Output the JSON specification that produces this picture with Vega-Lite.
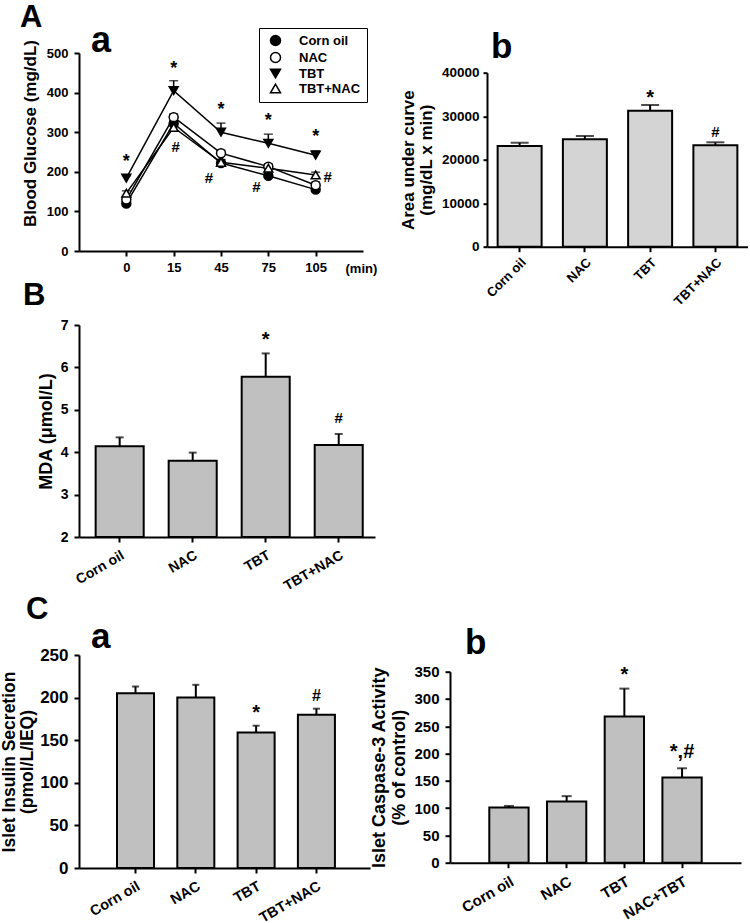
{
  "$schema": "https://vega.github.io/schema/vega-lite/v6.json",
  "background": "white",
  "padding": {"left": 0, "top": 2, "right": 0, "bottom": 0},
  "config": {
    "font": "Liberation Sans",
    "view": {"stroke": null},
    "axis": {
      "domainColor": "black", "domainWidth": 2, "tickColor": "black", "tickWidth": 2, "tickSize": 5,
      "labelColor": "black", "labelFont": "Liberation Sans", "labelFontWeight": "bold", "labelOverlap": false,
      "titleColor": "black", "titleFont": "Liberation Sans", "titleFontWeight": "bold", "grid": false,
      "labelPadding": 5, "titlePadding": 6
    },
    "title": {"font": "Liberation Sans", "fontWeight": "bold", "color": "black", "anchor": "start", "frame": "group"},
    "text": {"font": "Liberation Sans", "fontWeight": "bold", "color": "black"}
  },
  "datasets": {
    "glucose": [
      {"series": "Corn oil", "time": "0", "value": 120, "upper": 126},
      {"series": "Corn oil", "time": "15", "value": 322, "upper": 330},
      {"series": "Corn oil", "time": "45", "value": 222, "upper": 230},
      {"series": "Corn oil", "time": "75", "value": 190, "upper": 197},
      {"series": "Corn oil", "time": "105", "value": 155, "upper": 162},
      {"series": "NAC", "time": "0", "value": 130, "upper": 137},
      {"series": "NAC", "time": "15", "value": 338, "upper": 346},
      {"series": "NAC", "time": "45", "value": 247, "upper": 254},
      {"series": "NAC", "time": "75", "value": 213, "upper": 220},
      {"series": "NAC", "time": "105", "value": 166, "upper": 174},
      {"series": "TBT", "time": "0", "value": 184, "upper": 190},
      {"series": "TBT", "time": "15", "value": 405, "upper": 430},
      {"series": "TBT", "time": "45", "value": 300, "upper": 323},
      {"series": "TBT", "time": "75", "value": 272, "upper": 295},
      {"series": "TBT", "time": "105", "value": 242, "upper": 253},
      {"series": "TBT+NAC", "time": "0", "value": 146, "upper": 152},
      {"series": "TBT+NAC", "time": "15", "value": 312, "upper": 320},
      {"series": "TBT+NAC", "time": "45", "value": 224, "upper": 231},
      {"series": "TBT+NAC", "time": "75", "value": 209, "upper": 216},
      {"series": "TBT+NAC", "time": "105", "value": 192, "upper": 199}
    ],
    "glucose_notes": [
      {"time": "0", "y": 235, "note": "*"},
      {"time": "15", "y": 470, "note": "*"},
      {"time": "45", "y": 366, "note": "*"},
      {"time": "75", "y": 338, "note": "*"},
      {"time": "105", "y": 298, "note": "*"},
      {"time": "15", "y": 263, "note": "#"},
      {"time": "45", "y": 184, "note": "#"},
      {"time": "75", "y": 162, "note": "#"},
      {"time": "105", "y": 187, "note": "#"}
    ],
    "auc": [
      {"group": "Corn oil", "value": 23150, "upper": 23900},
      {"group": "NAC", "value": 24690, "upper": 25450},
      {"group": "TBT", "value": 31260, "upper": 32570},
      {"group": "TBT+NAC", "value": 23300, "upper": 24000}
    ],
    "auc_notes": [
      {"group": "TBT", "y": 35300, "note": "*"},
      {"group": "TBT+NAC", "y": 26440, "note": "#"}
    ],
    "mda": [
      {"group": "Corn oil", "value": 4.14, "upper": 4.35},
      {"group": "NAC", "value": 3.80, "upper": 3.99},
      {"group": "TBT", "value": 5.78, "upper": 6.33},
      {"group": "TBT+NAC", "value": 4.17, "upper": 4.43}
    ],
    "mda_notes": [
      {"group": "TBT", "y": 6.77, "note": "*"},
      {"group": "TBT+NAC", "y": 4.80, "note": "#"}
    ],
    "insulin": [
      {"group": "Corn oil", "value": 205, "upper": 213},
      {"group": "NAC", "value": 200, "upper": 215},
      {"group": "TBT", "value": 159, "upper": 167},
      {"group": "TBT+NAC", "value": 180, "upper": 187}
    ],
    "insulin_notes": [
      {"group": "TBT", "y": 188, "note": "*"},
      {"group": "TBT+NAC", "y": 202, "note": "#"}
    ],
    "caspase": [
      {"group": "Corn oil", "value": 101, "upper": 104},
      {"group": "NAC", "value": 112, "upper": 122},
      {"group": "TBT", "value": 268, "upper": 319},
      {"group": "NAC+TBT", "value": 156, "upper": 173}
    ],
    "caspase_notes": [
      {"group": "TBT", "y": 352, "note": "*"},
      {"group": "NAC+TBT", "y": 211, "note": "*,#"}
    ]
  },
  "spacing": 0,
  "bounds": "flush",
  "vconcat": [
    {
      "title": {"text": "A", "fontSize": 31, "dx": -59, "dy": 11, "offset": 0},
      "spacing": 124,
      "bounds": "flush",
      "hconcat": [
        {
          "title": {"text": "a", "fontSize": 36, "dx": 12, "dy": 20.6, "offset": 0},
          "width": 284,
          "height": 198,
          "data": {"name": "glucose"},
          "encoding": {
            "x": {
              "field": "time", "type": "ordinal", "sort": ["0", "15", "45", "75", "105"],
              "scale": {"type": "point", "padding": 1},
              "axis": {"labelAngle": 0, "labelFontSize": 13, "labelPadding": 5, "title": "(min)", "titleAngle": 0, "titleFontSize": 13, "titleAlign": "left", "titleBaseline": "middle", "titleX": 266, "titleY": 17}
            }
          },
          "layer": [
            {
              "mark": {"type": "line", "color": "black", "strokeWidth": 1.5},
              "encoding": {
                "y": {
                  "field": "value", "type": "quantitative", "scale": {"domain": [0, 500], "nice": false},
                  "axis": {"values": [0, 100, 200, 300, 400, 500], "labelFontSize": 13, "labelPadding": 6, "title": "Blood Glucose (mg/dL)", "titleFontSize": 17, "titlePadding": 7, "titleY": 80}
                },
                "detail": {"field": "series"}
              }
            },
            {
              "mark": {"type": "rule", "color": "black", "strokeWidth": 1.5},
              "encoding": {
                "y": {"field": "value", "type": "quantitative", "axis": {"values": [0, 100, 200, 300, 400, 500], "labelFontSize": 13, "labelPadding": 6, "title": "Blood Glucose (mg/dL)", "titleFontSize": 17, "titlePadding": 7, "titleY": 80}},
                "y2": {"field": "upper"}
              }
            },
            {
              "mark": {"type": "tick", "color": "black", "thickness": 1.5, "size": 9},
              "encoding": {"y": {"field": "upper", "type": "quantitative", "axis": {"values": [0, 100, 200, 300, 400, 500], "labelFontSize": 13, "labelPadding": 6, "title": "Blood Glucose (mg/dL)", "titleFontSize": 17, "titlePadding": 7, "titleY": 80}}}
            },
            {
              "mark": {"type": "point", "filled": true, "stroke": "black", "strokeWidth": 1.5, "size": 80, "opacity": 1},
              "encoding": {
                "y": {"field": "value", "type": "quantitative", "axis": {"values": [0, 100, 200, 300, 400, 500], "labelFontSize": 13, "labelPadding": 6, "title": "Blood Glucose (mg/dL)", "titleFontSize": 17, "titlePadding": 7, "titleY": 80}},
                "shape": {
                  "field": "series", "type": "nominal",
                  "scale": {"domain": ["Corn oil", "NAC", "TBT", "TBT+NAC"], "range": ["circle", "circle", "triangle-down", "triangle-up"]},
                  "legend": {
                    "orient": "none", "legendX": 180, "legendY": -25, "title": null,
                    "symbolSize": 100, "symbolStrokeWidth": 1.5, "symbolStrokeColor": "black", "symbolOpacity": 1, "symbolOffset": 4,
                    "labelFontSize": 13, "labelFontWeight": "bold", "labelColor": "black", "labelFont": "Liberation Sans", "labelOffset": 17,
                    "strokeColor": "black", "fillColor": "white", "padding": 6, "rowPadding": 0,
                    "encoding": {
                      "symbols": {
                        "shape": {"value": {"expr": "datum.value === 'TBT' ? 'M-3.2,0H3.2M-1.1,-0.9L1.1,-0.9L0,1Z' : datum.value === 'TBT+NAC' ? 'M-3.2,0H-0.58M0.58,0H3.2M-1.1,0.9L1.1,0.9L0,-1Z' : 'M-3.2,0H-1M1,0H3.2M-1,0A1,1,0,1,1,1,0A1,1,0,1,1,-1,0Z'"}},
                        "size": {"value": 100},
                        "stroke": {"value": "black"},
                        "strokeWidth": {"value": 1.5},
                        "opacity": {"value": 1}
                      }
                    }
                  }
                },
                "fill": {
                  "field": "series", "type": "nominal",
                  "scale": {"domain": ["Corn oil", "NAC", "TBT", "TBT+NAC"], "range": ["black", "white", "black", "white"]},
                  "legend": {
                    "orient": "none", "legendX": 180, "legendY": -25, "title": null,
                    "symbolSize": 100, "symbolStrokeWidth": 1.5, "symbolStrokeColor": "black", "symbolOpacity": 1, "symbolOffset": 4,
                    "labelFontSize": 13, "labelFontWeight": "bold", "labelColor": "black", "labelFont": "Liberation Sans", "labelOffset": 17,
                    "strokeColor": "black", "fillColor": "white", "padding": 6, "rowPadding": 0,
                    "encoding": {
                      "symbols": {
                        "shape": {"value": {"expr": "datum.value === 'TBT' ? 'M-3.2,0H3.2M-1.1,-0.9L1.1,-0.9L0,1Z' : datum.value === 'TBT+NAC' ? 'M-3.2,0H-0.58M0.58,0H3.2M-1.1,0.9L1.1,0.9L0,-1Z' : 'M-3.2,0H-1M1,0H3.2M-1,0A1,1,0,1,1,1,0A1,1,0,1,1,-1,0Z'"}},
                        "size": {"value": 100},
                        "stroke": {"value": "black"},
                        "strokeWidth": {"value": 1.5},
                        "opacity": {"value": 1}
                      }
                    }
                  }
                }
              }
            },
            {
              "data": {"name": "glucose_notes"},
              "transform": [{"filter": "datum.note == '*'"}],
              "mark": {"type": "text", "fontSize": 18, "dy": 4},
              "encoding": {"y": {"field": "y", "type": "quantitative", "axis": {"values": [0, 100, 200, 300, 400, 500], "labelFontSize": 13, "labelPadding": 6, "title": "Blood Glucose (mg/dL)", "titleFontSize": 17, "titlePadding": 7, "titleY": 80}}, "text": {"field": "note"}}
            },
            {
              "data": {"name": "glucose_notes"},
              "transform": [{"filter": "datum.note == '#' && (datum.time == '45' || datum.time == '75')"}],
              "mark": {"type": "text", "fontSize": 15, "dx": -12},
              "encoding": {"y": {"field": "y", "type": "quantitative", "axis": {"values": [0, 100, 200, 300, 400, 500], "labelFontSize": 13, "labelPadding": 6, "title": "Blood Glucose (mg/dL)", "titleFontSize": 17, "titlePadding": 7, "titleY": 80}}, "text": {"field": "note"}}
            },
            {
              "data": {"name": "glucose_notes"},
              "transform": [{"filter": "datum.note == '#' && datum.time == '105'"}],
              "mark": {"type": "text", "fontSize": 15, "dx": 12},
              "encoding": {"y": {"field": "y", "type": "quantitative", "axis": {"values": [0, 100, 200, 300, 400, 500], "labelFontSize": 13, "labelPadding": 6, "title": "Blood Glucose (mg/dL)", "titleFontSize": 17, "titlePadding": 7, "titleY": 80}}, "text": {"field": "note"}}
            },
            {
              "data": {"name": "glucose_notes"},
              "transform": [{"filter": "datum.note == '#' && datum.time == '15'"}],
              "mark": {"type": "text", "fontSize": 15, "dx": 2},
              "encoding": {"y": {"field": "y", "type": "quantitative", "axis": {"values": [0, 100, 200, 300, 400, 500], "labelFontSize": 13, "labelPadding": 6, "title": "Blood Glucose (mg/dL)", "titleFontSize": 17, "titlePadding": 7, "titleY": 80}}, "text": {"field": "note"}}
            }
          ]
        },
        {
          "spacing": 18.7,
          "bounds": "flush",
          "vconcat": [
            {"width": 1, "height": 1, "data": {"values": []}, "mark": "point"},
            {
              "title": {"text": "b", "fontSize": 35, "dx": 4, "offset": 0.8},
              "width": 261,
              "height": 174,
              "encoding": {
                "x": {
                  "field": "group", "type": "nominal", "sort": null,
                  "scale": {"domain": ["Corn oil", "NAC", "TBT", "TBT+NAC"], "paddingInner": 0.326, "paddingOuter": 0.163},
                  "axis": {"title": null, "labelAngle": -45, "labelFontSize": 13, "labelPadding": 4}
                }
              },
              "layer": [
                {
                  "data": {"name": "auc"},
                  "mark": {"type": "bar", "fill": "#d4d4d4", "stroke": "black", "strokeWidth": 2},
                  "encoding": {
                    "y": {
                      "field": "value", "type": "quantitative", "scale": {"domain": [0, 40000], "nice": false},
                      "axis": {"values": [0, 10000, 20000, 30000, 40000], "format": "d", "labelFontSize": 13.5, "labelPadding": 4, "tickSize": 4, "title": ["Area under curve", "(mg/dL x min)"], "titleFontSize": 17, "titleLineHeight": 18, "titlePadding": 6}
                    }
                  }
                },
                {
                  "data": {"name": "auc"},
                  "mark": {"type": "rule", "color": "black", "strokeWidth": 2},
                  "encoding": {"y": {"field": "value", "type": "quantitative", "axis": {"values": [0, 10000, 20000, 30000, 40000], "format": "d", "labelFontSize": 13.5, "labelPadding": 4, "tickSize": 4, "title": ["Area under curve", "(mg/dL x min)"], "titleFontSize": 17, "titleLineHeight": 18, "titlePadding": 6}}, "y2": {"field": "upper"}}
                },
                {
                  "data": {"name": "auc"},
                  "mark": {"type": "tick", "color": "black", "thickness": 2, "size": 18},
                  "encoding": {"y": {"field": "upper", "type": "quantitative", "axis": {"values": [0, 10000, 20000, 30000, 40000], "format": "d", "labelFontSize": 13.5, "labelPadding": 4, "tickSize": 4, "title": ["Area under curve", "(mg/dL x min)"], "titleFontSize": 17, "titleLineHeight": 18, "titlePadding": 6}}}
                },
                {
                  "data": {"name": "auc_notes"},
                  "transform": [{"filter": "datum.note == '*'"}],
                  "mark": {"type": "text", "fontSize": 20, "dy": 5},
                  "encoding": {"y": {"field": "y", "type": "quantitative", "axis": {"values": [0, 10000, 20000, 30000, 40000], "format": "d", "labelFontSize": 13.5, "labelPadding": 4, "tickSize": 4, "title": ["Area under curve", "(mg/dL x min)"], "titleFontSize": 17, "titleLineHeight": 18, "titlePadding": 6}}, "text": {"field": "note"}}
                },
                {
                  "data": {"name": "auc_notes"},
                  "transform": [{"filter": "datum.note == '#'"}],
                  "mark": {"type": "text", "fontSize": 15},
                  "encoding": {"y": {"field": "y", "type": "quantitative", "axis": {"values": [0, 10000, 20000, 30000, 40000], "format": "d", "labelFontSize": 13.5, "labelPadding": 4, "tickSize": 4, "title": ["Area under curve", "(mg/dL x min)"], "titleFontSize": 17, "titleLineHeight": 18, "titlePadding": 6}}, "text": {"field": "note"}}
                }
              ]
            }
          ]
        }
      ]
    },
    {"width": 1, "height": 272, "data": {"values": []}, "mark": "point"},
    {
      "title": {"text": "B", "fontSize": 31, "dx": -56, "offset": 6.5},
      "width": 296,
      "height": 212,
      "encoding": {
        "x": {
          "field": "group", "type": "nominal", "sort": null,
          "scale": {"domain": ["Corn oil", "NAC", "TBT", "TBT+NAC"], "paddingInner": 0.342, "paddingOuter": 0.198, "align": 0.576},
          "axis": {"title": null, "labelAngle": -30, "labelFontSize": 14, "labelPadding": 6}
        }
      },
      "layer": [
        {
          "data": {"name": "mda"},
          "mark": {"type": "bar", "fill": "#c0c0c0", "stroke": "black", "strokeWidth": 2},
          "encoding": {
            "y": {
              "field": "value", "type": "quantitative", "scale": {"domain": [2, 7], "nice": false, "zero": false},
              "axis": {"values": [2, 3, 4, 5, 6, 7], "labelFontSize": 14, "labelPadding": 6, "title": [" ", "MDA (μmol/L)"], "titleFontSize": 18, "titleLineHeight": 36, "titlePadding": 5}
            },
            "y2": {"datum": 2}
          }
        },
        {
          "data": {"name": "mda"},
          "mark": {"type": "rule", "color": "black", "strokeWidth": 2},
          "encoding": {"y": {"field": "value", "type": "quantitative", "axis": {"values": [2, 3, 4, 5, 6, 7], "labelFontSize": 14, "labelPadding": 6, "title": [" ", "MDA (μmol/L)"], "titleFontSize": 18, "titleLineHeight": 36, "titlePadding": 5}}, "y2": {"field": "upper"}}
        },
        {
          "data": {"name": "mda"},
          "mark": {"type": "tick", "color": "black", "thickness": 2, "size": 8},
          "encoding": {"y": {"field": "upper", "type": "quantitative", "axis": {"values": [2, 3, 4, 5, 6, 7], "labelFontSize": 14, "labelPadding": 6, "title": [" ", "MDA (μmol/L)"], "titleFontSize": 18, "titleLineHeight": 36, "titlePadding": 5}}}
        },
        {
          "data": {"name": "mda_notes"},
          "transform": [{"filter": "datum.note == '*'"}],
          "mark": {"type": "text", "fontSize": 20, "dy": 5},
          "encoding": {"y": {"field": "y", "type": "quantitative", "axis": {"values": [2, 3, 4, 5, 6, 7], "labelFontSize": 14, "labelPadding": 6, "title": [" ", "MDA (μmol/L)"], "titleFontSize": 18, "titleLineHeight": 36, "titlePadding": 5}}, "text": {"field": "note"}}
        },
        {
          "data": {"name": "mda_notes"},
          "transform": [{"filter": "datum.note == '#'"}],
          "mark": {"type": "text", "fontSize": 15},
          "encoding": {"y": {"field": "y", "type": "quantitative", "axis": {"values": [2, 3, 4, 5, 6, 7], "labelFontSize": 14, "labelPadding": 6, "title": [" ", "MDA (μmol/L)"], "titleFontSize": 18, "titleLineHeight": 36, "titlePadding": 5}}, "text": {"field": "note"}}
        }
      ]
    },
    {"width": 1, "height": 117.3, "data": {"values": []}, "mark": "point"},
    {
      "title": {"text": "C", "fontSize": 31, "dx": -53, "dy": 6, "offset": 0},
      "spacing": 80,
      "bounds": "flush",
      "hconcat": [
        {
          "title": {"text": "a", "fontSize": 35, "dx": 12, "dy": 9.2, "offset": 0},
          "width": 291,
          "height": 213,
          "encoding": {
            "x": {
              "field": "group", "type": "nominal", "sort": null,
              "scale": {"domain": ["Corn oil", "NAC", "TBT", "TBT+NAC"], "paddingInner": 0.386, "paddingOuter": 0.606, "align": 0.52},
              "axis": {"title": null, "labelAngle": -30, "labelFontSize": 14.5, "labelPadding": 6}
            }
          },
          "layer": [
            {
              "data": {"name": "insulin"},
              "mark": {"type": "bar", "fill": "#c0c0c0", "stroke": "black", "strokeWidth": 2},
              "encoding": {
                "y": {
                  "field": "value", "type": "quantitative", "scale": {"domain": [0, 250], "nice": false},
                  "axis": {"values": [0, 50, 100, 150, 200, 250], "labelFontSize": 17, "labelPadding": 6, "title": ["Islet Insulin Secretion", "(pmol/L/IEQ)"], "titleFontSize": 17.5, "titleLineHeight": 18, "titlePadding": 3}
                }
              }
            },
            {
              "data": {"name": "insulin"},
              "mark": {"type": "rule", "color": "black", "strokeWidth": 2},
              "encoding": {"y": {"field": "value", "type": "quantitative", "axis": {"values": [0, 50, 100, 150, 200, 250], "labelFontSize": 17, "labelPadding": 6, "title": ["Islet Insulin Secretion", "(pmol/L/IEQ)"], "titleFontSize": 17.5, "titleLineHeight": 18, "titlePadding": 3}}, "y2": {"field": "upper"}}
            },
            {
              "data": {"name": "insulin"},
              "mark": {"type": "tick", "color": "black", "thickness": 2, "size": 7},
              "encoding": {"y": {"field": "upper", "type": "quantitative", "axis": {"values": [0, 50, 100, 150, 200, 250], "labelFontSize": 17, "labelPadding": 6, "title": ["Islet Insulin Secretion", "(pmol/L/IEQ)"], "titleFontSize": 17.5, "titleLineHeight": 18, "titlePadding": 3}}}
            },
            {
              "data": {"name": "insulin_notes"},
              "transform": [{"filter": "datum.note == '*'"}],
              "mark": {"type": "text", "fontSize": 20, "dy": 5},
              "encoding": {"y": {"field": "y", "type": "quantitative", "axis": {"values": [0, 50, 100, 150, 200, 250], "labelFontSize": 17, "labelPadding": 6, "title": ["Islet Insulin Secretion", "(pmol/L/IEQ)"], "titleFontSize": 17.5, "titleLineHeight": 18, "titlePadding": 3}}, "text": {"field": "note"}}
            },
            {
              "data": {"name": "insulin_notes"},
              "transform": [{"filter": "datum.note == '#'"}],
              "mark": {"type": "text", "fontSize": 16},
              "encoding": {"y": {"field": "y", "type": "quantitative", "axis": {"values": [0, 50, 100, 150, 200, 250], "labelFontSize": 17, "labelPadding": 6, "title": ["Islet Insulin Secretion", "(pmol/L/IEQ)"], "titleFontSize": 17.5, "titleLineHeight": 18, "titlePadding": 3}}, "text": {"field": "note"}}
            }
          ]
        },
        {
          "spacing": 15.7,
          "bounds": "flush",
          "vconcat": [
            {"width": 1, "height": 1, "data": {"values": []}, "mark": "point"},
            {
              "title": {"text": "b", "fontSize": 35, "dx": 15, "offset": 3.5},
              "width": 291,
              "height": 191,
              "encoding": {
                "x": {
                  "field": "group", "type": "nominal", "sort": null,
                  "scale": {"domain": ["Corn oil", "NAC", "TBT", "NAC+TBT"], "paddingInner": 0.319, "paddingOuter": 0.681},
                  "axis": {"title": null, "labelAngle": -30, "labelFontSize": 15, "labelPadding": 6}
                }
              },
              "layer": [
                {
                  "data": {"name": "caspase"},
                  "mark": {"type": "bar", "fill": "#c0c0c0", "stroke": "black", "strokeWidth": 2},
                  "encoding": {
                    "y": {
                      "field": "value", "type": "quantitative", "scale": {"domain": [0, 350], "nice": false},
                      "axis": {"values": [0, 50, 100, 150, 200, 250, 300, 350], "labelFontSize": 15, "labelPadding": 6, "title": ["Islet Caspase-3 Activity", "(% of control)"], "titleFontSize": 18, "titleLineHeight": 20, "titlePadding": 5}
                    }
                  }
                },
                {
                  "data": {"name": "caspase"},
                  "mark": {"type": "rule", "color": "black", "strokeWidth": 2},
                  "encoding": {"y": {"field": "value", "type": "quantitative", "axis": {"values": [0, 50, 100, 150, 200, 250, 300, 350], "labelFontSize": 15, "labelPadding": 6, "title": ["Islet Caspase-3 Activity", "(% of control)"], "titleFontSize": 18, "titleLineHeight": 20, "titlePadding": 5}}, "y2": {"field": "upper"}}
                },
                {
                  "data": {"name": "caspase"},
                  "mark": {"type": "tick", "color": "black", "thickness": 2, "size": 10},
                  "encoding": {"y": {"field": "upper", "type": "quantitative", "axis": {"values": [0, 50, 100, 150, 200, 250, 300, 350], "labelFontSize": 15, "labelPadding": 6, "title": ["Islet Caspase-3 Activity", "(% of control)"], "titleFontSize": 18, "titleLineHeight": 20, "titlePadding": 5}}}
                },
                {
                  "data": {"name": "caspase_notes"},
                  "mark": {"type": "text", "fontSize": 20, "dy": 4},
                  "encoding": {"y": {"field": "y", "type": "quantitative", "axis": {"values": [0, 50, 100, 150, 200, 250, 300, 350], "labelFontSize": 15, "labelPadding": 6, "title": ["Islet Caspase-3 Activity", "(% of control)"], "titleFontSize": 18, "titleLineHeight": 20, "titlePadding": 5}}, "text": {"field": "note"}}
                }
              ]
            }
          ]
        }
      ]
    }
  ]
}
